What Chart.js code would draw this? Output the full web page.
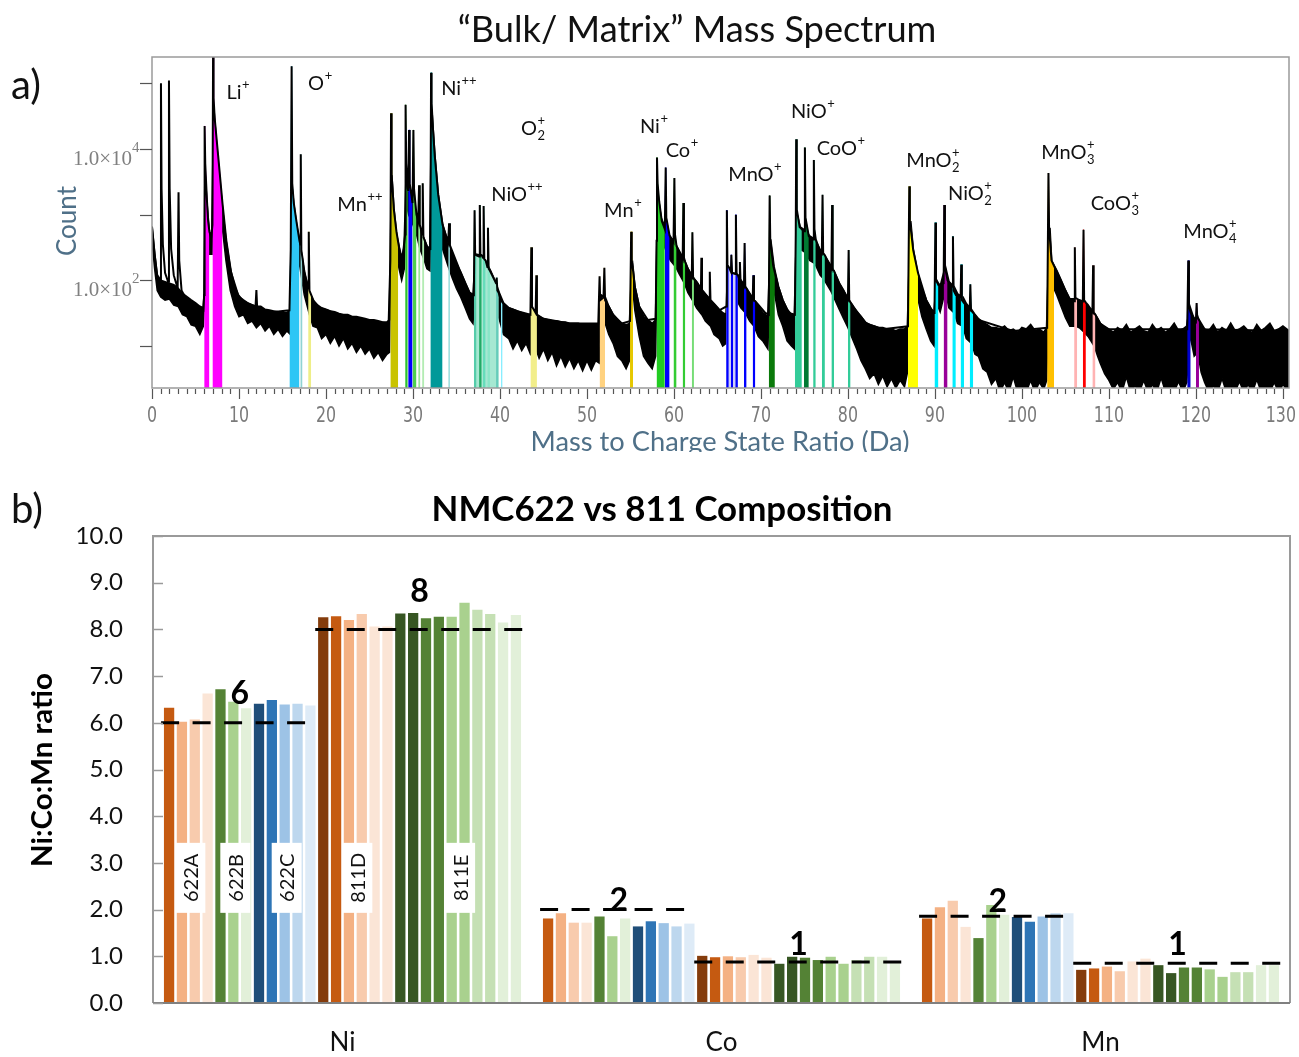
<!DOCTYPE html>
<html><head><meta charset="utf-8">
<script src="https://cdn.jsdelivr.net/npm/chart.js@4.4.1/dist/chart.umd.min.js"></script>
<style>
html,body{margin:0;padding:0;background:#fff;width:1299px;height:1057px;overflow:hidden;}
#ca{position:absolute;left:0;top:0;}
#cb{position:absolute;left:0;top:460px;}
</style></head><body>
<canvas id="ca" width="1299" height="452"></canvas>
<canvas id="cb" width="1299" height="597"></canvas>
<script>
// ================= PANEL a : mass spectrum =================
const xTickLabels = [0,10,20,30,40,50,60,70,80,90,100,110,120,130];
const yDecades = [10,100,1000,10000,100000];
const yLabelled = [100,10000];

// spectrum trace [Da, count] (peaks and their tails)
const spectrum = [
[0,660],[0.3,250],[0.6,110],[0.93,90],[1.03,100000],[1.1,2500],[1.25,350],[1.5,130],[1.85,95],[1.95,110000],[2.03,2500],[2.2,300],[2.5,120],[2.95,75],[3.05,2200],[3.13,200],[3.4,70],[4,50],[5,40],[5.9,35],
[6.0,60],[6.05,22400],[6.12,6000],[6.3,1800],[6.45,800],[6.6,550],[6.8,450],[6.95,700],[7.02,260000],[7.08,60000],[7.2,30000],[7.6,8000],[8.1,1500],[8.55,400],[9.1,130],[9.9,60],[10.5,48],
[11.9,40],[12.0,71],[12.1,35],[14,33],
[15.8,35],[15.95,300],[16.05,182000],[16.12,3000],[16.3,1500],[16.6,800],[16.95,400],[17.05,350],[17.1,8300],[17.17,280],[17.3,220],[17.5,140],[17.95,75],[18.02,550],[18.1,70],[18.3,60],[18.6,48],[19.3,38],[22,29],[25,24],
[27.2,22],[27.4,200],[27.48,35000],[27.55,4000],[27.8,1200],[28.1,550],[28.3,380],[28.6,220],[28.8,220],[29.1,500],[29.15,47000],[29.22,6000],[29.4,2500],[29.45,2300],[29.55,19500],[29.62,3000],[29.95,1500],[30.05,19500],[30.12,2500],[30.4,1000],[30.6,800],[30.7,2800],[30.78,700],[30.85,650],[31.05,500],[31.12,3000],[31.2,450],[31.3,420],[31.6,330],[31.85,300],
[32.0,300],[32.08,145000],[32.14,50000],[32.3,20000],[32.5,8000],[32.9,2000],[33.4,700],[34.05,380],[34.15,740],[34.25,340],[35.4,140],[36.5,65],
[37.0,60],[37.08,1170],[37.15,250],[37.3,240],[37.6,230],[37.68,1400],[37.75,250],[37.9,240],[38.05,220],[38.12,1350],[38.2,210],[38.35,200],[38.55,160],[38.62,630],[38.7,150],[38.85,140],[39.55,90],[39.62,110],[39.7,70],[39.85,65],[40.1,50],[40.3,46],[41,38],[42,34],
[43.5,30],[43.6,320],[43.68,40],[44.1,32],[44.18,120],[44.25,30],[45,26],[48,22],
[51.3,22],[51.45,115],[51.52,50],[51.9,55],[52.0,155],[52.08,50],[52.5,40],[53,30],[54,22],[54.95,24],[55.08,550],[55.15,200],[55.3,140],[55.5,80],[56,40],[57,25],[57.9,26],
[58.0,400],[58.05,7400],[58.12,3000],[58.3,1600],[58.6,800],[58.95,600],[59.05,5200],[59.12,900],[59.5,480],[59.95,380],[60.05,3600],[60.12,500],[60.3,330],[60.6,270],[61.0,210],[61.08,1500],[61.15,220],[61.3,190],[61.6,150],[62.05,115],[62.12,540],[62.2,110],[62.3,105],[62.7,90],[63.1,72],[63.15,220],[63.22,70],[64.05,52],[64.12,135],[64.2,50],[65.2,35],
[66.0,40],[66.08,1170],[66.15,170],[66.3,160],[66.55,135],[66.6,245],[66.68,130],[66.8,128],[67.05,125],[67.12,1000],[67.2,125],[67.35,120],[67.5,105],[67.58,190],[67.65,100],[68.05,82],[68.12,370],[68.2,80],[68.35,75],[69.05,52],[69.12,120],[69.2,50],[69.35,48],[70.5,32],
[70.9,30],[71.0,1950],[71.07,420],[71.4,170],[71.6,130],[72,80],[72.5,50],[73.2,32],
[73.9,30],[74.0,500],[74.05,14000],[74.12,1200],[74.45,650],[74.7,600],[74.95,560],[75.05,10500],[75.12,900],[75.5,470],[76.0,420],[76.08,6800],[76.15,600],[76.3,420],[76.75,290],[77.0,260],[77.08,2000],[77.15,260],[77.35,240],[77.9,170],[78.1,150],[78.18,1400],[78.25,145],[78.4,140],[79.0,90],[80.0,52],[80.08,290],[80.15,50],[80.3,46],[80.6,40],[82.1,22],[84,18],
[86.9,20],[87.05,2700],[87.12,800],[87.5,290],[88.05,130],[89.0,50],[89.8,32],
[89.95,32],[90.05,760],[90.12,100],[90.4,85],[91.0,90],[91.07,1400],[91.15,160],[91.45,100],[92.0,80],[92.07,470],[92.15,70],[92.4,60],[92.95,56],[93.02,175],[93.1,50],[93.35,45],[94.0,36],[94.07,87],[94.15,35],[94.4,32],[95,25],[99,17],
[102.9,19],[103.05,4300],[103.12,630],[103.4,200],[103.7,165],[103.95,140],[104.7,85],[105.5,50],
[106.0,48],[106.08,320],[106.15,55],[106.35,52],[106.6,50],[107.0,48],[107.08,590],[107.15,50],[107.35,46],[107.6,42],[108.1,33],[108.18,170],[108.25,32],[108.45,30],[109,22],[110,18],
[119.0,18],[119.12,200],[119.2,40],[119.4,32],[120.0,24],[120.08,45],[120.15,27],[120.35,25],[121,18],[130.7,17]
];

// noisy background band [Da, upper count, lower count]
const noiseBand = [
[0,630,400],[0.3,250,150],[0.6,120,70],[1.0,100,56],[1.5,95,50],[2.0,90,52],[2.5,85,42],[3.0,75,40],[3.5,63,30],[4.0,56,28],[4.5,50,21],[5.0,45,20],[5.5,40,15],[5.9,38,20],[6.0,60,35],
[6.1,4000,2000],[6.3,1500,700],[6.6,500,250],[6.9,500,250],[7.1,40000,20000],[7.4,12000,6000],[7.8,3000,1500],[8.1,1200,600],[8.5,400,200],[9.0,150,70],[9.5,80,40],[10,56,28],
[10.5,50,30],[11,45,22],[11.5,42,24],[12,40,19],[12.5,40,22],[13,36,17],[13.5,35,20],[14,34,15],[14.5,33,18],[15,32,14],[15.5,32,17],[15.9,35,15],
[16.1,2500,1200],[16.3,1400,600],[16.6,700,300],[17.0,370,160],[17.5,130,60],[18.1,65,30],[18.5,50,20],[19,42,19],[19.5,38,13],[20,36,15],[20.5,34,11],[21,33,14],[21.5,31,10],[22,30,13],[22.5,30,9],[23,28,11],[23.5,28,8],[24,27,10],[24.5,26,7.5],[25,25,9],[25.5,25,6.5],[26,24,8],[26.5,23,6],[27,23,7.5],[27.3,25,8],
[27.55,4000,2000],[27.8,1200,600],[28.1,500,250],[28.4,320,150],[28.7,220,100],[29.0,320,150],[29.2,3000,1500],[29.5,2000,1000],[30.0,1500,700],[30.4,1000,500],[30.8,650,300],[31.2,450,220],[31.6,330,150],[31.95,300,140],
[32.15,40000,20000],[32.3,20000,10000],[32.5,8000,4000],[32.9,2000,900],[33.4,700,300],[34.0,380,170],[34.5,250,110],[35,180,75],[35.5,130,55],[36,90,38],[36.5,65,26],[36.9,55,22],
[37.2,250,100],[37.8,240,100],[38.3,200,80],[38.9,140,55],[39.4,100,40],[39.9,65,26],[40.4,45,15],[41,38,13],[41.5,36,9],[42,34,12],[42.5,32,8.5],[43,30,11],[43.5,30,7.5],[44,30,10],[44.5,28,6.5],[45,26,9],[45.5,25,6],[46,24,8],[46.5,24,5],[47,23,7],[47.5,23,4.8],[48,22,6.5],[48.5,22,4.5],[49,22,6],[49.5,21,4.2],[50,21,6],[50.5,21,4.3],[51,21,6],[51.4,22,5.5],
[51.6,60,25],[52.1,55,22],[52.5,40,15],[53,30,11],[53.5,25,7],[54,22,6],[54.5,21,4.5],[54.9,22,6],
[55.2,200,90],[55.5,80,35],[56,40,14],[56.5,28,7],[57,25,5.5],[57.5,22,4.5],[57.9,25,7],
[58.15,2000,1000],[58.5,900,450],[59,630,300],[59.2,560,260],[59.6,450,200],[60.2,350,160],[60.6,280,125],[61.2,200,90],[61.6,150,65],[62.2,110,48],[62.6,95,38],[63.2,72,30],[63.6,62,24],[64.2,50,20],[64.6,44,15],[65.2,36,13],[65.6,32,10],[66.0,30,11],
[66.2,160,70],[66.7,130,55],[67.2,125,50],[67.7,100,38],[68.2,80,32],[68.7,63,24],[69.2,50,20],[69.7,40,14],[70.2,32,12],[70.8,28,9],
[71.1,420,190],[71.5,160,70],[72,80,30],[72.5,50,20],[73,36,12],[73.5,30,10],[73.85,28,9],
[74.15,1000,500],[74.5,650,300],[75.2,560,260],[75.6,470,200],[76.2,420,180],[76.8,290,120],[77.2,250,105],[78,170,70],[78.3,145,58],[79,90,36],[79.5,70,26],[80,52,19],[80.5,42,13],[81,33,9],[81.5,28,6],[82,23,4.5],[82.5,21,3.2],[83,20,3.8],[83.5,19,2.6],[84,19,3.5],[84.5,18,2.4],[85,18,3.2],[85.5,17,2.3],[86,18,3],[86.5,18,2.4],[86.85,20,4],
[87.2,800,400],[87.5,290,130],[88.0,130,55],[88.5,75,28],[89,50,18],[89.5,38,12],[89.9,32,10],
[90.2,100,45],[90.6,80,33],[91.2,160,70],[91.6,95,38],[92.2,80,32],[92.6,62,22],[93.2,56,20],[93.6,44,13],[94.2,36,11],[94.6,30,7.5],[95,26,7],[95.5,23,4.5],[96,21,4],[96.5,19,2.6],[97,19,3.2],[97.5,18,2],[98,20,2.8],[98.5,17,2],[99,18,3.4],[99.5,16,2],[100,19,2.4],[100.5,18,2],[101,21,3],[101.5,17,2],[102,18,2.8],[102.5,16,2.2],[102.85,19,3],
[103.2,630,300],[103.4,200,90],[104,140,60],[104.5,100,40],[105,70,27],[105.5,52,20],[106.2,52,20],[106.6,50,19],[107.2,45,16],[107.6,40,14],[108.3,32,10],[108.7,26,7],[109,22,5.5],[109.5,19,3.8],[110,18,3],
[110.5,16,2.2],[111,19,2.8],[111.5,17,2],[112,21,3.4],[112.5,16,2],[113,18,2.5],[113.5,20,2],[114,17,3],[114.5,16,2],[115,21,2.6],[115.5,17,2],[116,19,3.3],[116.5,16,2],[117,18,2.4],[117.5,22,2],[118,17,2.9],[118.5,18,2],[118.95,20,2.8],
[119.3,40,15],[119.8,25,7],[120.2,28,8],[120.6,20,4],[121,18,2.8],[121.5,17,2],[122,21,2.5],[122.5,16,2],[123,19,3.2],[123.5,17,2],[124,22,2.4],[124.5,17,2],[125,18,2.9],[125.5,20,2],[126,17,2.6],[126.5,16,2],[127,21,3.1],[127.5,17,2],[128,19,2.4],[128.5,22,2],[129,17,2.8],[129.5,18,2],[130,20,2.6],[130.7,17,2]
];

// coloured ranging windows [Da from, Da to]
const regionRanges = [
[6.0,6.6],[6.95,8.1],[15.8,16.95],[17.05,17.3],[17.95,18.3],[27.4,28.3],[29.1,29.4],[29.45,29.95],[29.95,30.4],[30.6,30.85],[31.05,31.3],[32.0,33.4],[34.05,34.25],
[37.0,39.85],[37.0,37.3],[37.6,37.9],[38.05,38.35],[38.55,38.85],[39.55,39.85],[40.1,40.3],[43.5,44.25],[51.45,52.08],[54.95,55.3],
[58.0,58.95],[58.95,59.5],[59.95,60.3],[61.0,61.3],[62.05,62.3],
[66.0,67.35],[66.0,66.3],[66.55,66.8],[67.05,67.35],[68.05,68.35],[69.05,69.35],[70.9,71.6],
[73.9,74.7],[74.95,75.5],[76.0,76.3],[77.0,77.35],[78.1,78.4],[80.0,80.3],
[86.9,88.05],[89.95,90.4],[91.0,91.45],[92.0,92.4],[92.95,93.35],[94.0,94.4],
[102.9,103.7],[106.0,106.35],[107.0,107.35],[108.1,108.45],[119.0,119.4],[120.0,120.35]
];
const regionColors = [
'#ff00ff','#ff00ff','#2ec6f5','#8fd3d3','#eeee88','#c9c300','#2ec42e','#0000ff','#4fd04f','#99e699','#b3ecb3','#009999','#99dddd',
'#a6e8d2','#55ccaa','#22aa66','#66ddbb','#88e6c8','#66ccbb','#88eeff','#f2ee8a','#ffd280','#e6c800',
'#22cc22','#0000ff','#33cc33','#33cc33','#77dd77',
'#cfcff7','#0000ff','#0000ff','#0000ff','#0000ff','#0000ff','#0a7a0a',
'#33cc99','#007a33','#33cc99','#33cc99','#33cc99','#33cc99',
'#ffff00','#00eeff','#990099','#00eeff','#00eeff','#00eeff',
'#ffc000','#ffb3b3','#ff0000','#ffb3b3','#0000cc','#990099'
];
const regionIsBase = [13, 28]; // drawn underneath the stripes

// ion labels
const ionBase = ['Li','O','Ni','Mn','O','NiO','Ni','Co','Mn','MnO','NiO','CoO','MnO','NiO','MnO','CoO','MnO'];
const ionSub  = ['','','','','2','','','','','','','','2','2','3','3','4'];
const ionSup  = ['+','+','++','++','+','++','+','+','+','+','+','+','+','+','+','+','+'];
const ionDa    = [9.85,19.3,35.25,23.87,43.76,41.92,57.67,60.89,54.1,69.28,75.94,79.16,89.74,93.99,105.25,110.66,121.58];
const ionCount = [73800,101000,84500,1460,20900,2070,22400,9660,1180,4170,37900,10350,6800,2140,9000,1510,565];

const specPts = spectrum.map(p => ({x:p[0], y:p[1]}));
const dsA = [];
dsA.push({data:specPts, borderColor:'#000', borderWidth:2, pointRadius:0, fill:false, order:0, tension:0});
regionRanges.forEach((r,i) => {
  dsA.push({data: specPts.filter(p => p.x >= r[0]-1e-9 && p.x <= r[1]+1e-9),
    backgroundColor: regionColors[i], borderColor: regionColors[i], borderWidth:1, pointRadius:0,
    fill:'start', order: regionIsBase.includes(i) ? 1.5 : 1, tension:0});
});
dsA.push({data: noiseBand.map(b=>({x:b[0], y:b[1]})), backgroundColor:'#000', borderColor:'#000', borderWidth:2, pointRadius:0, fill:'+1', order:3, tension:0});
dsA.push({data: noiseBand.map(b=>({x:b[0], y:b[2]})), borderColor:'#000', borderWidth:1.5, pointRadius:0, fill:false, order:3, tension:0});

function fitFont(ctx, text, weight, family, target, base){
  ctx.font = `${weight} ${base}px ${family}`;
  const w = ctx.measureText(text).width;
  return base * target / w;
}

const plugA = {
  id:'plugA',
  afterDraw(chart){
    const {ctx, chartArea:a, scales:{x,y}} = chart;
    ctx.save();
    let fs = fitFont(ctx, '\u201CBulk/ Matrix\u201D Mass Spectrum', 'normal', 'Lato', 479, 30);
    ctx.font = `normal ${fs}px Lato`; ctx.fillStyle = '#111'; ctx.textAlign='center'; ctx.textBaseline='middle';
    ctx.fillText('\u201CBulk/ Matrix\u201D Mass Spectrum', 697, 30);
    ctx.font = '40px Lato'; ctx.textAlign='left'; ctx.fillStyle='#111';
    ctx.fillText('a)', 11, 86);
    ctx.strokeStyle='#9a9a9a'; ctx.lineWidth=1.5;
    ctx.strokeRect(a.left, a.top, a.right-a.left, a.bottom-a.top);
    ctx.strokeStyle='#555'; ctx.lineWidth=1.2;
    for(let v=0; v<=130; v++){
      const px = Math.round(x.getPixelForValue(v))+0.5;
      const len = v%10===0 ? 11 : 6;
      ctx.beginPath(); ctx.moveTo(px, a.bottom+1); ctx.lineTo(px, a.bottom+len); ctx.stroke();
    }
    // condensed tick labels
    ctx.fillStyle='#7a7a7a';
    ctx.font = '22px "DejaVu Sans",sans-serif';
    ctx.textAlign='center'; ctx.textBaseline='middle';
    xTickLabels.forEach(v => {
      const s = String(v);
      const w = ctx.measureText(s).width*0.72;
      let px = x.getPixelForValue(v);
      if (px + w/2 > 1296) px = 1296 - w/2;
      ctx.save(); ctx.translate(px, 416); ctx.scale(0.72, 1); ctx.fillText(s, 0, 0); ctx.restore();
    });
    fs = fitFont(ctx, 'Mass to Charge State Ratio (Da)', 'normal', 'Lato', 379, 22);
    ctx.font = `normal ${fs}px Lato`; ctx.fillStyle='#4f7088'; ctx.textBaseline='alphabetic';
    ctx.fillText('Mass to Charge State Ratio (Da)', 720, 451);
    ctx.strokeStyle='#555'; ctx.lineWidth=1.2;
    yDecades.forEach(v => {
      const py = Math.round(y.getPixelForValue(v))+0.5;
      ctx.beginPath(); ctx.moveTo(a.left-12, py); ctx.lineTo(a.left, py); ctx.stroke();
    });
    ctx.fillStyle='#808080';
    yLabelled.forEach(v => {
      const py = y.getPixelForValue(v);
      const exp = String(Math.round(Math.log10(v)));
      ctx.font = '21px "Liberation Serif",serif'; ctx.textAlign='right'; ctx.textBaseline='alphabetic';
      ctx.fillText('1.0\u00D710', 132, py+16);
      ctx.font = '15px "Liberation Serif",serif'; ctx.textAlign='left';
      ctx.fillText(exp, 132, py+3);
    });
    ctx.save(); ctx.translate(68, 221); ctx.rotate(-Math.PI/2);
    ctx.font = '26px Lato'; ctx.fillStyle='#4f7088'; ctx.textAlign='center'; ctx.textBaseline='middle';
    ctx.fillText('Count', 0, 0); ctx.restore();
    ionBase.forEach((b,i) => {
      const cx = x.getPixelForValue(ionDa[i]), cy = y.getPixelForValue(ionCount[i]);
      ctx.font = '20px Lato'; const wb = ctx.measureText(b).width;
      ctx.font = '13px Lato';
      const ws = Math.max(ionSub[i]?ctx.measureText(ionSub[i]).width:0, ctx.measureText(ionSup[i]).width);
      const x0 = cx - (wb+ws)/2;
      ctx.fillStyle='#111'; ctx.textAlign='left'; ctx.textBaseline='alphabetic';
      ctx.font = '20px Lato'; ctx.fillText(b, x0, cy+7);
      ctx.font = '13px Lato';
      ctx.fillText(ionSup[i], x0+wb+0.5, cy-3);
      if (ionSub[i]) ctx.fillText(ionSub[i], x0+wb+0.5, cy+12);
    });
    ctx.restore();
  }
};

new Chart(document.getElementById('ca'), {
  type:'line',
  data:{datasets: dsA},
  options:{
    responsive:false, animation:false, devicePixelRatio:1,
    layout:{padding:{top:57, right:10, left:0, bottom:0}},
    plugins:{legend:{display:false}, tooltip:{enabled:false}},
    scales:{
      x:{type:'linear', min:0, max:130.7, grid:{display:false}, border:{display:false}, ticks:{display:false}, afterFit(s){s.height=64;}},
      y:{type:'logarithmic', min:2.3, max:251000, grid:{display:false}, border:{display:false}, ticks:{display:false}, afterFit(s){s.width=152;}}
    }
  },
  plugins:[plugA]
});

// ================= PANEL b : NMC composition bars =================
const categories = ['Ni','Co','Mn'];
const sampleNames = ['622A','622B','622C','811D','811E'];
const sampleFirst = [0,4,7,12,18];
const sampleLast  = [3,6,11,17,27];
const niValues = [6.32,6.02,6.07,6.63, 6.72,6.45,6.31, 6.41,6.49,6.39,6.41,6.37, 8.26,8.28,8.20,8.33,8.06,8.06, 8.34,8.35,8.24,8.27,8.27,8.57,8.42,8.33,8.15,8.31];
const coValues = [1.81,1.92,1.72,1.72, 1.85,1.43,1.81, 1.64,1.75,1.71,1.64,1.70, 1.01,0.98,1.00,0.98,1.03,0.97, 0.84,0.99,0.97,0.92,0.99,0.84,0.92,0.99,0.99,0.86];
const mnValues = [1.81,2.05,2.19,1.63, 1.39,2.10,1.89, 1.84,1.74,1.85,1.92,1.92, 0.71,0.74,0.78,0.68,0.89,0.95, 0.81,0.64,0.76,0.76,0.72,0.56,0.66,0.66,0.81,0.81];
const target622 = [6.0, 2.0, 1.86];
const target811 = [8.0, 0.88, 0.85];
const targetText622 = ['6','2','2'];
const targetText811 = ['8','1','1'];
const yTickValues = [0,1,2,3,4,5,6,7,8,9,10];

const barColors = ['#C55A11','#F4B183','#F8CBAD','#FBE5D6',
 '#548235','#A9D18E','#E2F0D9',
 '#1F4E79','#2E75B6','#9DC3E6','#BDD7EE','#DEEBF7',
 '#843C0C','#C55A11','#F4B183','#F8CBAD','#FBE5D6','#FBE5D6',
 '#375623','#375623','#548235','#548235','#A9D18E','#A9D18E','#C5E0B4','#C5E0B4','#E2F0D9','#E2F0D9'];
const numberLabelY622 = [6.62, 2.2, 2.17];
const numberLabelY811 = [8.81, 1.24, 1.24];
const sampleBoxY = 2.68;

const dsB = niValues.map((v,i) => ({
  data:[niValues[i], coValues[i], mnValues[i]],
  backgroundColor: barColors[i], borderWidth:0
}));

const plugB = {
  id:'plugB',
  afterDatasetsDraw(chart){
    const {ctx, chartArea:a, scales:{y}} = chart;
    const bx = (ds, c) => chart.getDatasetMeta(ds).data[c].x;
    ctx.save();
    ctx.strokeStyle='#000'; ctx.lineWidth=3; ctx.setLineDash([18,13.5]);
    for (let c=0;c<3;c++){
      [[0,11,target622[c]],[12,27,target811[c]]].forEach(([f,l,t]) => {
        const py = y.getPixelForValue(t);
        ctx.beginPath(); ctx.moveTo(bx(f,c)-8, py); ctx.lineTo(bx(l,c)+7, py); ctx.stroke();
      });
    }
    ctx.setLineDash([]);
    ctx.font='bold 32px Lato'; ctx.fillStyle='#000'; ctx.textAlign='center'; ctx.textBaseline='middle';
    for (let c=0;c<3;c++){
      ctx.fillText(targetText622[c], (bx(0,c)+bx(11,c))/2, y.getPixelForValue(numberLabelY622[c]));
      ctx.fillText(targetText811[c], (bx(12,c)+bx(27,c))/2, y.getPixelForValue(numberLabelY811[c]));
    }
    sampleNames.forEach((n,k) => {
      const cx = (bx(sampleFirst[k],0)+bx(sampleLast[k],0))/2 + 2;
      const cy = y.getPixelForValue(sampleBoxY);
      ctx.fillStyle='#fff'; ctx.fillRect(cx-15, cy-35, 30, 70);
      ctx.save(); ctx.translate(cx, cy); ctx.rotate(-Math.PI/2);
      ctx.font='20px Lato'; ctx.fillStyle='#111'; ctx.textAlign='center'; ctx.textBaseline='middle';
      ctx.fillText(n, 0, 1); ctx.restore();
    });
    ctx.restore();
  },
  afterDraw(chart){
    const {ctx, chartArea:a, scales:{y}} = chart;
    ctx.save();
    ctx.strokeStyle='#9a9a9a'; ctx.lineWidth=2;
    ctx.beginPath(); ctx.moveTo(a.left, a.bottom); ctx.lineTo(a.left, a.top); ctx.lineTo(a.right, a.top); ctx.lineTo(a.right, a.bottom); ctx.stroke();
    ctx.strokeStyle='#808080'; ctx.lineWidth=2;
    ctx.beginPath(); ctx.moveTo(a.left, a.bottom); ctx.lineTo(a.right, a.bottom); ctx.stroke();
    ctx.strokeStyle='#9a9a9a'; ctx.lineWidth=1.5;
    yTickValues.forEach(v => { const py=Math.round(y.getPixelForValue(v))+0.5; ctx.beginPath(); ctx.moveTo(a.left, py); ctx.lineTo(a.left+10, py); ctx.stroke(); });
    const t = 'NMC622 vs 811 Composition';
    const fs = fitFont(ctx, t, 'bold', 'Lato', 461, 30);
    ctx.font = `bold ${fs}px Lato`; ctx.fillStyle='#000'; ctx.textAlign='center'; ctx.textBaseline='middle';
    ctx.fillText(t, 662, 50);
    ctx.font = '40px Lato'; ctx.textAlign='left'; ctx.fillStyle='#111';
    ctx.fillText('b)', 11, 50);
    ctx.save(); ctx.translate(42, 310); ctx.rotate(-Math.PI/2);
    const fs2 = fitFont(ctx, 'Ni:Co:Mn ratio', 'bold', 'Lato', 194, 24);
    ctx.font = `bold ${fs2}px Lato`; ctx.fillStyle='#000'; ctx.textAlign='center'; ctx.textBaseline='middle';
    ctx.fillText('Ni:Co:Mn ratio', 0, 0); ctx.restore();
    ctx.restore();
  }
};

new Chart(document.getElementById('cb'), {
  type:'bar',
  data:{labels: categories, datasets: dsB},
  options:{
    responsive:false, animation:false, devicePixelRatio:1,
    layout:{padding:{top:76, right:9, left:0, bottom:0}},
    plugins:{legend:{display:false}, tooltip:{enabled:false}},
    datasets:{bar:{categoryPercentage:0.949, barPercentage:0.8}},
    scales:{
      x:{grid:{display:false, drawTicks:false}, border:{display:false},
         ticks:{font:{family:'Lato', size:26}, color:'#111', padding:24}, afterFit(s){s.height=54;}},
      y:{min:0, max:10, grid:{display:false, drawTicks:false}, border:{display:false},
         ticks:{stepSize:1, callback:v=>Number(v).toFixed(1), font:{family:'Lato', size:24}, color:'#111', padding:30},
         afterFit(s){s.width=153;}}
    }
  },
  plugins:[plugB]
});
</script>
</body></html>
